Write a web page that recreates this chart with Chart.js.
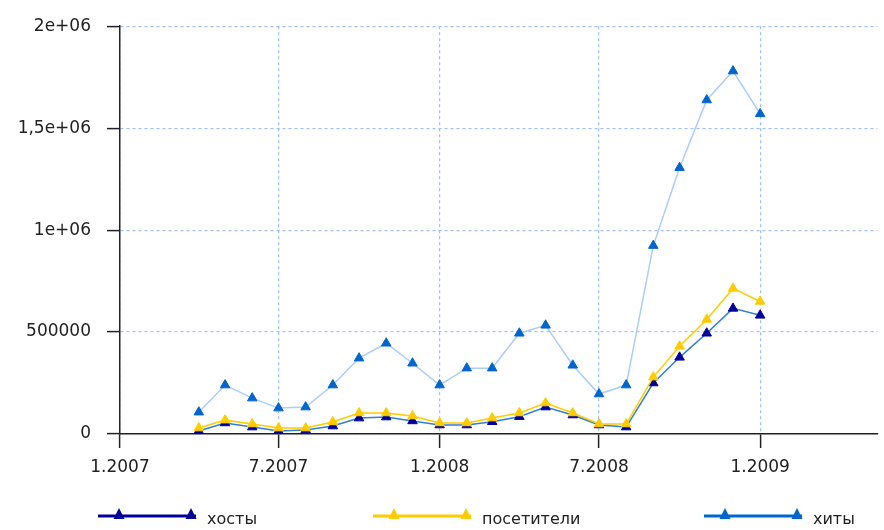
<!DOCTYPE html>
<html>
<head>
<meta charset="utf-8">
<script src="https://cdn.jsdelivr.net/npm/chart.js@4"></script>
<style>
  body { margin: 0; background: #fff; }
  #wrap { width: 884px; height: 530px; }
</style>
</head>
<body>
<div id="wrap"><canvas id="myChart"></canvas></div>
<script>
// months of the data (first day of each month)
const months = [
  "2007-04", "2007-05", "2007-06", "2007-07", "2007-08", "2007-09", "2007-10", "2007-11",
  "2007-12", "2008-01", "2008-02", "2008-03", "2008-04", "2008-05", "2008-06", "2008-07",
  "2008-08", "2008-09", "2008-10", "2008-11", "2008-12", "2009-01"
];
const hosts = [
  15000, 54000, 34000, 15000, 20000, 39000, 78000, 83000, 64000, 44000, 44000,
  60000, 85000, 132000, 93000, 44000, 34000, 250000, 376000, 494000, 616000, 582000
];
const visitors = [
  29000, 68000, 49000, 29000, 29000, 59000, 103000, 103000, 88000, 54000, 54000,
  78000, 103000, 152000, 103000, 49000, 49000, 279000, 430000, 562000, 714000, 650000
];
const hits = [
  107000, 240000, 176000, 127000, 132000, 240000, 372000, 445000, 347000, 240000, 323000,
  323000, 494000, 533000, 337000, 196000, 240000, 924000, 1306000, 1638000, 1780000, 1570000
];
const seriesNames = ["хосты", "посетители", "хиты"];
const xTickDates = ["2007-01", "2007-07", "2008-01", "2008-07", "2009-01"];
const xTickLabels = ["1.2007", "7.2007", "1.2008", "7.2008", "1.2009"];
const yTickLabels = ["0", "500000", "1e+06", "1,5e+06", "2e+06"];

const origin = Date.UTC(2007, 0, 1);
function dayOf(m) {
  const p = m.split("-");
  return (Date.UTC(+p[0], +p[1] - 1, 1) - origin) / 86400000;
}
const xs = months.map(dayOf);
const xTicks = xTickDates.map(dayOf);
function pts(arr) {
  return arr.map((v, i) => ({ x: xs[i], y: v }));
}

const legendColors = ["#000099", "#ffcc00", "#0066cc"];
const font = "DejaVu Sans";
const gridBlue = "#9fc0ff";

const legendPlugin = {
  id: "bottomLegend",
  afterDraw(chart) {
    const c = chart.ctx;
    const lx = [98, 373, 704];
    const y = 516;
    c.save();
    for (let i = 0; i < 3; i++) {
      const x0 = lx[i], x1 = lx[i] + 98;
      c.strokeStyle = legendColors[i];
      c.fillStyle = legendColors[i];
      c.lineWidth = 3;
      c.beginPath();
      c.moveTo(x0, y);
      c.lineTo(x1, y);
      c.stroke();
      [x0 + 21, x1 - 5].forEach(tx => {
        c.beginPath();
        c.moveTo(tx, y - 8);
        c.lineTo(tx + 5.5, y + 3);
        c.lineTo(tx - 5.5, y + 3);
        c.closePath();
        c.fill();
      });
      c.fillStyle = "#222";
      c.font = "16px '" + font + "'";
      c.textBaseline = "middle";
      c.fillText(seriesNames[i], x1 + 11, y + 4);
    }
    c.restore();
  }
};

function markers(color) {
  return {
    pointStyle: "triangle",
    pointRadius: 5.5,
    pointBackgroundColor: color,
    pointBorderColor: color,
    pointBorderWidth: 1,
  };
}

const ctx = document.getElementById("myChart");
var myChart = new Chart(ctx, {
  type: "line",
  data: {
    datasets: [
      Object.assign({
        label: seriesNames[0],
        data: pts(hosts),
        borderColor: "#2f80d4",
        borderWidth: 1.5,
        order: 3,
      }, markers("#000099")),
      Object.assign({
        label: seriesNames[1],
        data: pts(visitors),
        borderColor: "#ffcc00",
        borderWidth: 1.5,
        order: 2,
      }, markers("#ffcc00")),
      Object.assign({
        label: seriesNames[2],
        data: pts(hits),
        borderColor: "#aaccff",
        borderWidth: 1.5,
        order: 1,
      }, markers("#0066cc")),
    ],
  },
  options: {
    responsive: true,
    maintainAspectRatio: false,
    animation: false,
    layout: { padding: { top: 25, right: 4, left: 0, bottom: 0 } },
    plugins: { legend: { display: false }, tooltip: { enabled: false } },
    scales: {
      x: {
        type: "linear",
        min: 0,
        max: 865,
        afterBuildTicks: (s) => { s.ticks = xTicks.map(v => ({ value: v })); },
        afterFit: (s) => { s.height = 96; },
        ticks: {
          color: "#222",
          font: { family: font, size: 17 },
          padding: 9,
          maxRotation: 0,
          callback: (v) => xTickLabels[xTicks.indexOf(v)],
        },
        grid: {
          color: gridBlue,
          lineWidth: 1.2,
          tickLength: 14,
          tickColor: "#222",
          tickBorderDash: [],
          tickWidth: 1.5,
        },
        border: { display: true, color: "#222", width: 1.5, dash: [3, 3] },
      },
      y: {
        min: 0,
        max: 2000000,
        afterBuildTicks: (s) => { s.ticks = [0, 500000, 1000000, 1500000, 2000000].map(v => ({ value: v })); },
        afterFit: (s) => { s.width = 120; },
        ticks: {
          color: "#222",
          font: { family: font, size: 17 },
          padding: 16,
          callback: (v) => yTickLabels[v / 500000],
        },
        grid: {
          color: gridBlue,
          lineWidth: 1.2,
          tickLength: 13,
          tickColor: "#222",
          tickBorderDash: [],
          tickWidth: 1.5,
        },
        border: { display: true, color: "#222", width: 1.5, dash: [3, 3] },
      },
    },
  },
  plugins: [legendPlugin],
});
</script>
</body>
</html>
